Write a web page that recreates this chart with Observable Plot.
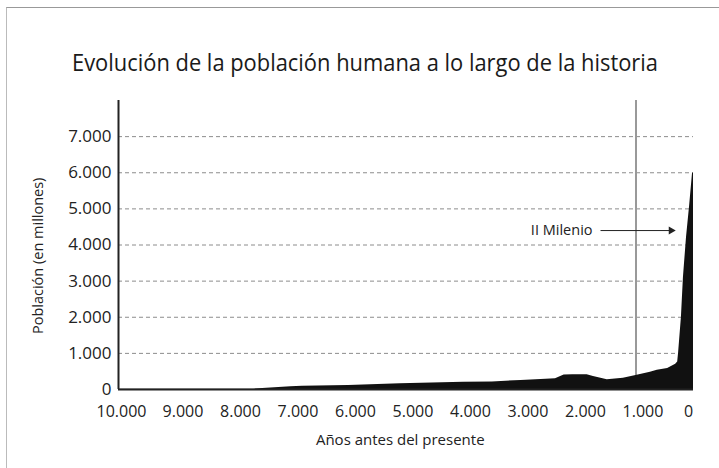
<!DOCTYPE html>
<html><head><meta charset="utf-8">
<script src="https://cdn.jsdelivr.net/npm/d3@7"></script>
<script src="https://cdn.jsdelivr.net/npm/@observablehq/plot@0.6"></script>
<style>
body{margin:0;background:#fff;}
#wrap{position:relative;width:719px;height:468px;overflow:hidden;font-family:"Open Sans",sans-serif;}
#frame{position:absolute;left:6px;top:7px;right:-4px;bottom:-4px;border-top:1.5px solid #999;border-left:1.5px solid #bbb;}
#title{position:absolute;top:46px;left:0;width:719px;height:32px;font-size:24px;line-height:32px;color:#1a1a1a;white-space:nowrap;}
#title span{position:absolute;top:0;left:0;transform-origin:0 50%;}
#chart{position:absolute;left:0;top:0;}
</style></head><body>
<div id="wrap"><div id="frame"></div><div id="chart"></div><div id="title"><span id="tspan"></span></div></div>
<script>
// Data (years before present, population in millions)
const years = [10000, 9000, 8000, 7650, 7000, 6800, 6000, 5100, 4000, 3500, 3000, 2650, 2400, 2250, 2100, 1850, 1740, 1500, 1220, 1000, 750, 630, 450, 310, 275, 260, 210, 175, 122, 70, 17, 0];
const population = [4, 5, 7, 10, 75, 90, 110, 160, 200, 210, 250, 280, 300, 400, 410, 405, 360, 270, 310, 390, 480, 530, 580, 700, 760, 1000, 2000, 3100, 4200, 5040, 5980, 6000];
const xTicksMid = [9000, 8000, 7000, 6000, 5000, 4000, 3000, 2000, 1000];
const xTickFirst = [10000];
const xTickLast = [0];
const yTicks = [0, 1000, 2000, 3000, 4000, 5000, 6000, 7000];
const gridValues = [1000, 2000, 3000, 4000, 5000, 6000, 7000];
const titleText = "Evolución de la población humana a lo largo de la historia";
const xLabel = "Años antes del presente";
const yLabel = "Población (en millones)";
const annotationText = "II Milenio";
const milenioYear = [1000];
const arrowStart = 1617;
const arrowEnd = 390;
const arrowY = 4400;

const fmt = d3.formatLocale({decimal: ",", thousands: ".", grouping: [3], currency: ["", ""]}).format(",");
const data = years.map((x, i) => ({x, y: population[i]}));
const xAxisOpts = {tickSize: 0, tickPadding: 16, tickFormat: fmt, fontSize: 16, label: null};

const chart = Plot.plot({
  width: 719, height: 468,
  marginLeft: 118, marginRight: 26, marginTop: 100, marginBottom: 79,
  style: {fontFamily: "'Open Sans', sans-serif", background: "transparent", color: "#222"},
  x: {domain: [10000, 0]},
  y: {domain: [0, 8000]},
  marks: [
    Plot.ruleY(gridValues, {stroke: "#8c8c8c", strokeDasharray: "4,3", strokeWidth: 1}),
    Plot.ruleX(milenioYear, {y1: 0, y2: 8000, stroke: "#999", strokeWidth: 2}),
    Plot.areaY(data, {x: "x", y: "y", fill: "#111"}),
    Plot.ruleX([10000], {y1: 0, y2: 8000, stroke: "#222", strokeWidth: 2}),
    Plot.ruleY([0], {stroke: "#222", strokeWidth: 2}),
    Plot.axisY({ticks: yTicks, tickSize: 0, tickPadding: 7, tickFormat: fmt, fontSize: 17, label: null}),
    Plot.axisX({...xAxisOpts, ticks: xTicksMid, dx: 7}),
    Plot.axisX({...xAxisOpts, ticks: xTickFirst, dx: 3}),
    Plot.axisX({...xAxisOpts, ticks: xTickLast, dx: -5}),
    Plot.text([yLabel], {x: 10000, y: 3700, dx: -80, rotate: -90, fontSize: 14.5, text: d => d}),
    Plot.text([xLabel], {x: 5100, y: 0, dy: 51, fontSize: 15, text: d => d}),
    Plot.text([annotationText], {x: arrowStart, y: arrowY, dx: -8, textAnchor: "end", fontSize: 14.5, text: d => d}),
    Plot.link([0], {x1: arrowStart, x2: arrowEnd, y1: arrowY, y2: arrowY, stroke: "#222", strokeWidth: 1}),
    Plot.dot([0], {x: arrowEnd, y: arrowY, symbol: "triangle", r: 3, fill: "#222", rotate: 90})
  ]
});
document.getElementById("chart").appendChild(chart);
const ts = document.getElementById("tspan");
ts.textContent = titleText;
const w = ts.getBoundingClientRect().width;
const targetW = 586, targetLeft = 72;
ts.style.left = targetLeft + "px";
ts.style.transform = `scaleX(${targetW / w})`;
</script>
</body></html>
